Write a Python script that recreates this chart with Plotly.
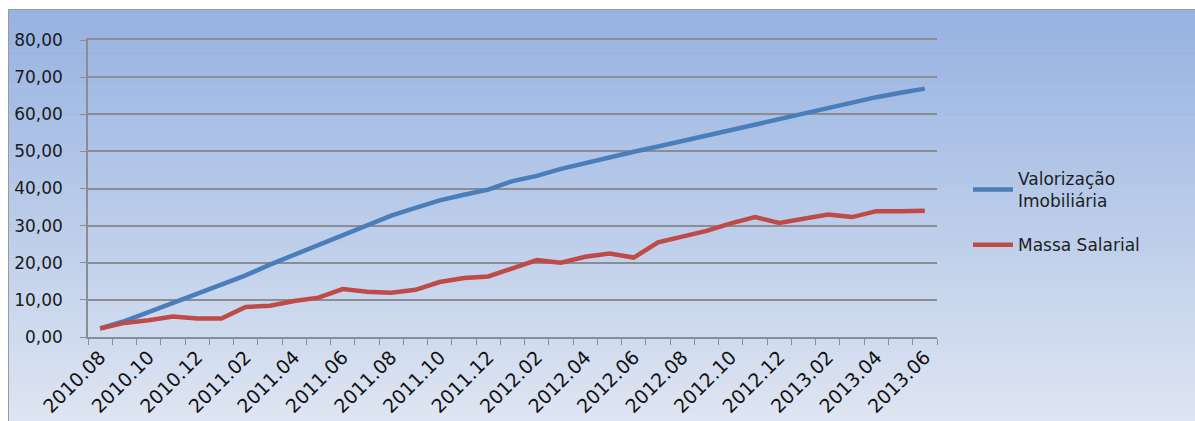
import plotly.graph_objects as go

# Monthly series, Aug 2010 – Jun 2013 (accumulated %, two series)
months = [
    "2010.08", "2010.09", "2010.10", "2010.11", "2010.12",
    "2011.01", "2011.02", "2011.03", "2011.04", "2011.05", "2011.06",
    "2011.07", "2011.08", "2011.09", "2011.10", "2011.11", "2011.12",
    "2012.01", "2012.02", "2012.03", "2012.04", "2012.05", "2012.06",
    "2012.07", "2012.08", "2012.09", "2012.10", "2012.11", "2012.12",
    "2013.01", "2013.02", "2013.03", "2013.04", "2013.05", "2013.06",
]

valorizacao = [
    2.3, 4.3, 6.7, 9.1, 11.5, 13.9, 16.6, 19.5, 22.2, 24.6, 27.6, 30.1,
    32.7, 34.8, 36.8, 38.3, 39.7, 42.0, 43.4, 45.3, 46.9, 48.4, 49.9,
    51.3, 52.8, 54.1, 55.7, 57.3, 58.8, 60.2, 61.8, 63.3, 64.6, 65.8, 66.9,
]

massa_salarial = [
    2.3, 3.8, 4.5, 5.5, 5.0, 5.0, 8.1, 8.4, 9.7, 10.6, 12.9, 12.2,
    11.9, 12.7, 14.8, 15.9, 16.3, 18.6, 20.7, 20.0, 21.6, 22.5, 21.4,
    25.5, 27.0, 28.6, 30.6, 32.3, 30.7, 31.8, 33.0, 32.3, 33.9, 33.9, 34.0,
]

label_months = months[::2]

x_idx = list(range(len(months)))
label_idx = x_idx[::2]

fig = go.Figure()
fig.add_trace(go.Scatter(
    x=x_idx, y=valorizacao, mode="lines",
    name="Valorização<br>Imobiliária", legendgroup="valorizacao",
    line=dict(color="#4A7EBB", width=4.5),
))
fig.add_trace(go.Scatter(
    x=x_idx, y=massa_salarial, mode="lines",
    name="Massa Salarial", legendgroup="massa",
    line=dict(color="#BE4B48", width=4.5),
))

# Vertical gradient background for the whole chart area (paper coords)
W, H = 1195, 421
L, R, T, B = 88, 937, 40, 337


def px_x(px):
    return (px - L) / (R - L)


def px_y(py):
    return (B - py) / (B - T)


top_rgb = (150, 178, 225)
bot_rgb = (222, 229, 242)
y_top, y_bot = 9, 421
n = 80
shapes = []
for i in range(n):
    f = i / (n - 1)
    c = tuple(round(top_rgb[k] + (bot_rgb[k] - top_rgb[k]) * f) for k in range(3))
    y0 = y_top + (y_bot - y_top) * i / n
    y1 = y_top + (y_bot - y_top) * (i + 1) / n + 0.6
    shapes.append(dict(
        type="rect", xref="paper", yref="paper", layer="below",
        x0=px_x(8), x1=px_x(W + 2), y0=px_y(y1), y1=px_y(y0),
        fillcolor="rgb(%d,%d,%d)" % c, line=dict(width=0),
    ))
# chart frame
shapes.append(dict(
    type="rect", xref="paper", yref="paper", layer="below",
    x0=px_x(8.5), x1=px_x(W + 5), y0=px_y(H + 5), y1=px_y(9.5),
    fillcolor="rgba(0,0,0,0)", line=dict(color="#9A9A9A", width=1),
))

grid_col = "#8A8D93"

fig.update_layout(
    width=W, height=H,
    margin=dict(l=L, r=W - R, t=T, b=H - B, autoexpand=False),
    paper_bgcolor="white",
    plot_bgcolor="rgba(0,0,0,0)",
    separators=",.",
    shapes=shapes,
    showlegend=True,
    legend=dict(
        x=px_x(968), y=px_y(161), xanchor="left", yanchor="top",
        bgcolor="rgba(0,0,0,0)",
        font=dict(family="DejaVu Sans", size=17, color="#1E1E1E"),
        tracegroupgap=19, itemwidth=40,
    ),
    font=dict(family="DejaVu Sans", color="#1E1E1E"),
    xaxis=dict(
        range=[-0.5, len(months) - 0.5], automargin=False,
        tickmode="array", tickvals=label_idx, ticktext=label_months,
        tickangle=-45, ticks="", showgrid=False, zeroline=False,
        showline=True, linecolor=grid_col, linewidth=1.5, mirror=True,
        tickfont=dict(family="DejaVu Sans", size=19, color="#111111"),
        minor=dict(tick0=-0.5, dtick=1, ticks="outside", ticklen=6,
                   tickcolor=grid_col, tickwidth=1, showgrid=False),
    ),
    yaxis=dict(
        range=[0, 80], dtick=10, tickformat=".2f", automargin=False,
        showgrid=True, gridcolor=grid_col, gridwidth=1.5,
        zeroline=False, showline=True, linecolor=grid_col, linewidth=1.5,
        ticks="outside", ticklen=6, tickcolor=grid_col,
        ticklabelstandoff=14,
        tickfont=dict(family="DejaVu Sans", size=17, color="#1A1A1A"),
    ),
)

fig.write_html("out.html")
